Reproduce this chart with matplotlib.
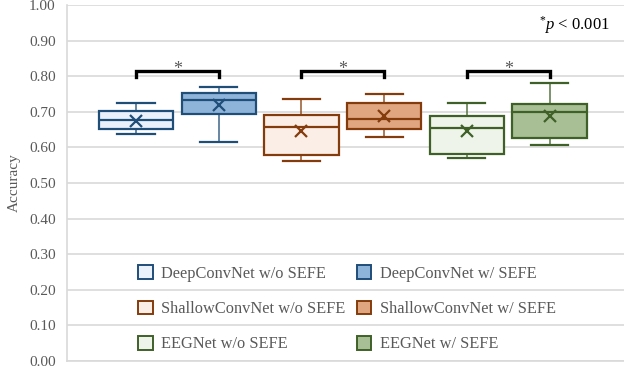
import matplotlib
matplotlib.use('Agg')
from matplotlib import pyplot as plt
from matplotlib.patches import Patch

plt.rcParams['font.family'] = ['Liberation Serif', 'DejaVu Serif']
plt.rcParams['mathtext.fontset'] = 'custom'
plt.rcParams['mathtext.rm'] = 'Liberation Serif'
plt.rcParams['mathtext.it'] = 'Liberation Serif:italic'

# データ
labels = ['DeepConvNet w/o SEFE', 'DeepConvNet w/ SEFE',
          'ShallowConvNet w/o SEFE', 'ShallowConvNet w/ SEFE',
          'EEGNet w/o SEFE', 'EEGNet w/ SEFE']
whis_lo = [0.638, 0.614, 0.561, 0.629, 0.571, 0.608]
q1 = [0.652, 0.694, 0.578, 0.653, 0.582, 0.626]
median = [0.676, 0.732, 0.656, 0.680, 0.654, 0.699]
q3 = [0.701, 0.754, 0.690, 0.725, 0.689, 0.723]
whis_hi = [0.726, 0.771, 0.736, 0.751, 0.725, 0.780]
mean = [0.673, 0.720, 0.647, 0.687, 0.647, 0.689]

# 有意差ペア
pairs = [(0, 1), (2, 3), (4, 5)]
bracket_y = 0.815
star_y = 0.795

edge_cols = ['#1f4e79', '#1f4e79', '#843c0c', '#843c0c', '#3f6128', '#3f6128']
face_cols = ['#eaf1fa', '#8fb4da', '#fbeee6', '#e0a680', '#eef4ea', '#a8bf96']
text_col = '#595959'

fig = plt.figure(figsize=(6.24, 3.68), dpi=100)
ax = fig.add_axes([0.107, 0.019, 0.893, 0.9674])

stats = []
for i in range(len(labels)):
    stats.append(dict(whislo=whis_lo[i], q1=q1[i], med=median[i], q3=q3[i],
                      whishi=whis_hi[i], mean=mean[i], fliers=[], label=labels[i]))

positions = list(range(len(labels)))
for i, s in enumerate(stats):
    c = edge_cols[i]
    ax.bxp([s], positions=[positions[i]], widths=0.9, patch_artist=True,
           showmeans=True, showfliers=False,
           boxprops=dict(facecolor=face_cols[i], edgecolor=c, linewidth=1.6),
           medianprops=dict(color=c, linewidth=1.6),
           whiskerprops=dict(color=c, linewidth=1.2, alpha=0.8),
           capprops=dict(color=c, linewidth=1.6),
           capwidths=0.45,
           meanprops=dict(marker='x', markeredgecolor=c, markersize=9, markeredgewidth=1.6),
           zorder=3)

# ブラケットと星
for a, b in pairs:
    ax.plot([a, a, b, b], [bracket_y - 0.018, bracket_y, bracket_y, bracket_y - 0.018],
            color='black', linewidth=2.4, solid_joinstyle='miter', zorder=4)
    ax.text((a + b) / 2, star_y, '*', ha='center', va='bottom', fontsize=13, color=text_col)

ax.text(0.975, 0.944, r'$^{*}\it{p}$ < 0.001', transform=ax.transAxes, ha='right', va='center',
        fontsize=12, color='black')

ax.set_xlim(-0.838, 5.9)
ax.set_ylim(0, 1.0)
ax.set_yticks([i / 10 for i in range(11)])
ax.set_yticklabels(['%.2f' % (i / 10) for i in range(11)])
ax.set_xticks([])
ax.grid(axis='y', color='#d9d9d9', linewidth=1.2)
ax.set_axisbelow(True)
for sp in ['top', 'right']:
    ax.spines[sp].set_visible(False)
ax.spines['left'].set_color('#d9d9d9')
ax.spines['left'].set_linewidth(1.2)
ax.spines['bottom'].set_color('#d9d9d9')
ax.spines['bottom'].set_linewidth(1.2)
ax.tick_params(axis='y', length=0, labelsize=11, labelcolor=text_col, pad=8)
ax.set_ylabel('Accuracy', fontsize=11, color=text_col, labelpad=6)

# 凡例（列優先なので w/o → w/ の順）
order = [0, 2, 4, 1, 3, 5]
handles = [Patch(facecolor=face_cols[i], edgecolor=edge_cols[i], linewidth=1.4) for i in order]
ax.legend(handles, [labels[i] for i in order], ncol=2, frameon=False,
          loc='upper left', bbox_to_anchor=(0.102, 0.31), fontsize=11.8,
          handlelength=0.9, handleheight=0.9, handletextpad=0.5,
          columnspacing=0.68, labelspacing=1.15, labelcolor=text_col)

fig.savefig('out.png', dpi=100)
